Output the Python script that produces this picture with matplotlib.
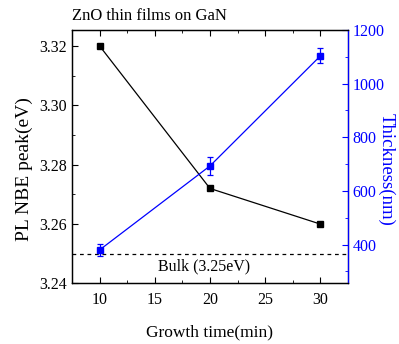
import matplotlib
matplotlib.use("Agg")
import matplotlib.pyplot as plt
from matplotlib.ticker import MultipleLocator

plt.rcParams["font.family"] = ["Liberation Serif", "DejaVu Serif"]

# data
growth_time = [10, 20, 30]
pl_peak = [3.320, 3.272, 3.260]
thickness = [380, 693, 1103]
thickness_err = [22, 32, 28]
bulk_value = 3.25

fig = plt.figure(figsize=(3.99, 3.44), dpi=100)
ax = fig.add_axes([0.1805, 0.176, 0.6915, 0.737])
ax2 = ax.twinx()

# PL peak (left axis)
ax.plot(growth_time, pl_peak, color="black", lw=0.9, marker="s",
        markersize=4.5, zorder=3)
ax.axhline(bulk_value, color="black", lw=0.9, ls=(0, (3, 3)))
ax.text(19.5, 3.2457, "Bulk (3.25eV)", ha="center", va="center", fontsize=11.5)

ax.set_xlim(7.5, 32.5)
ax.set_ylim(3.24, 3.3254)
ax.xaxis.set_major_locator(MultipleLocator(5))
ax.xaxis.set_minor_locator(MultipleLocator(2.5))
ax.yaxis.set_major_locator(MultipleLocator(0.02))
ax.yaxis.set_minor_locator(MultipleLocator(0.01))
ax.tick_params(which="both", direction="in", top=True, labelsize=11.5)
ax.tick_params(axis="x", pad=6)
ax.tick_params(which="major", length=4)
ax.tick_params(which="minor", length=2.5)
ax.set_xlabel("Growth time(min)", fontsize=12.5, labelpad=12)
ax.set_ylabel("PL NBE peak(eV)", fontsize=14, ha="center", va="center")
ax.yaxis.set_label_coords(-0.172, 0.45)
ax.text(0.0, 1.025, "ZnO thin films on GaN", transform=ax.transAxes,
        ha="left", va="bottom", fontsize=12)

# Thickness (right axis)
ax2.errorbar(growth_time, thickness, yerr=thickness_err, color="blue", lw=0.9,
             marker="s", markersize=4.5, capsize=2, elinewidth=0.9, capthick=0.9)
ax2.set_ylim(255, 1200)
ax2.yaxis.set_major_locator(MultipleLocator(200))
ax2.yaxis.set_minor_locator(MultipleLocator(100))
ax2.tick_params(which="both", direction="in", colors="blue", labelsize=11.5)
ax2.tick_params(which="major", length=4)
ax2.tick_params(which="minor", length=2.5)
ax2.spines["right"].set_color("blue")
ax2.set_ylabel("Thickness(nm)", color="blue", fontsize=13.5, rotation=270,
               ha="center", va="center")
ax2.yaxis.set_label_coords(1.14, 0.45)

for a in (ax, ax2):
    for s in a.spines.values():
        s.set_linewidth(0.9)

fig.savefig("out.png", dpi=100)
